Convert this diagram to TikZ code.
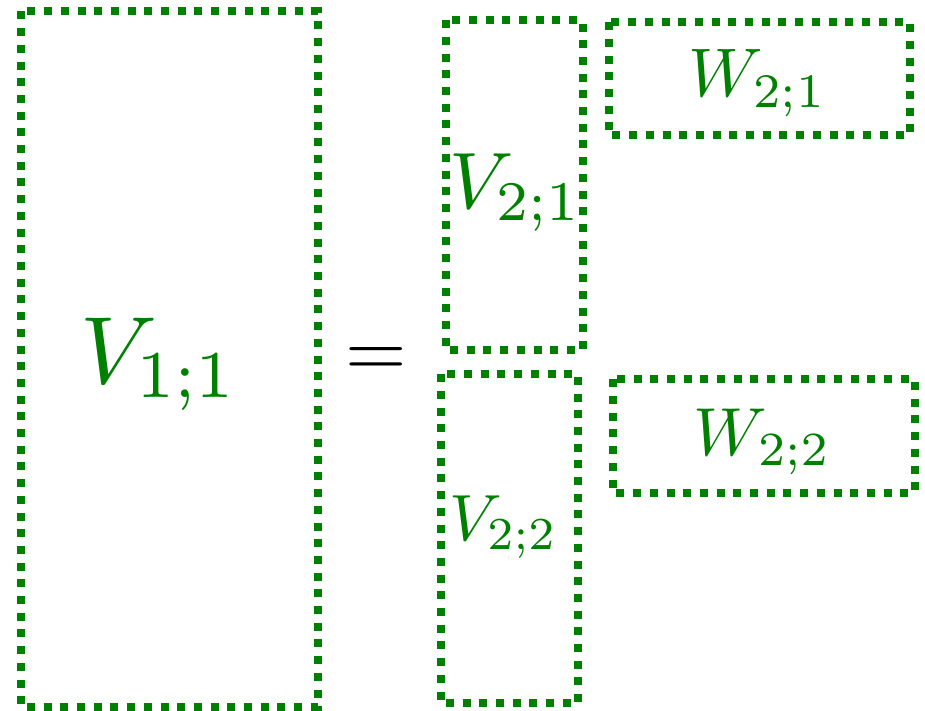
\documentclass[tikz,border=0pt]{standalone}
\definecolor{dg}{RGB}{0,128,0}
\begin{document}
\begin{tikzpicture}[x=0.5pt,y=-0.5pt,
  blockbox/.style={draw=dg, line width=4pt, dash pattern=on 4pt off 4.35pt},
  lbl/.style={text=dg, inner sep=0pt, anchor=base}]
\useasboundingbox (0,0) rectangle (925,711);
% boxes
\draw[blockbox] (21,11.5) rectangle (318,707);
\draw[blockbox] (445.7,20.3) rectangle (582.5,350);
\draw[blockbox] (441,374.2) rectangle (578.3,703.3);
\draw[blockbox] (608.7,22.3) rectangle (910,135.5);
\draw[blockbox] (612.7,379.3) rectangle (914.7,492.5);
% labels
\node[lbl, scale=4.78] (v11) at (159.5,383.3) {$V_{1;1}$};
\node[lbl, scale=4.0] (v21) at (516,208.3) {$V_{2;1}$};
\node[lbl, scale=3.27] (v22) at (503.5,540) {$V_{2;2}$};
\node[lbl, scale=3.44] (w21) at (758,96.7) {$W_{2;1}$};
\node[lbl, scale=3.40] (w22) at (762.5,455) {$W_{2;2}$};
\node[inner sep=0pt, anchor=base, scale=3.95] (eq) at (376.3,376) {$=$};
\end{tikzpicture}
\end{document}
